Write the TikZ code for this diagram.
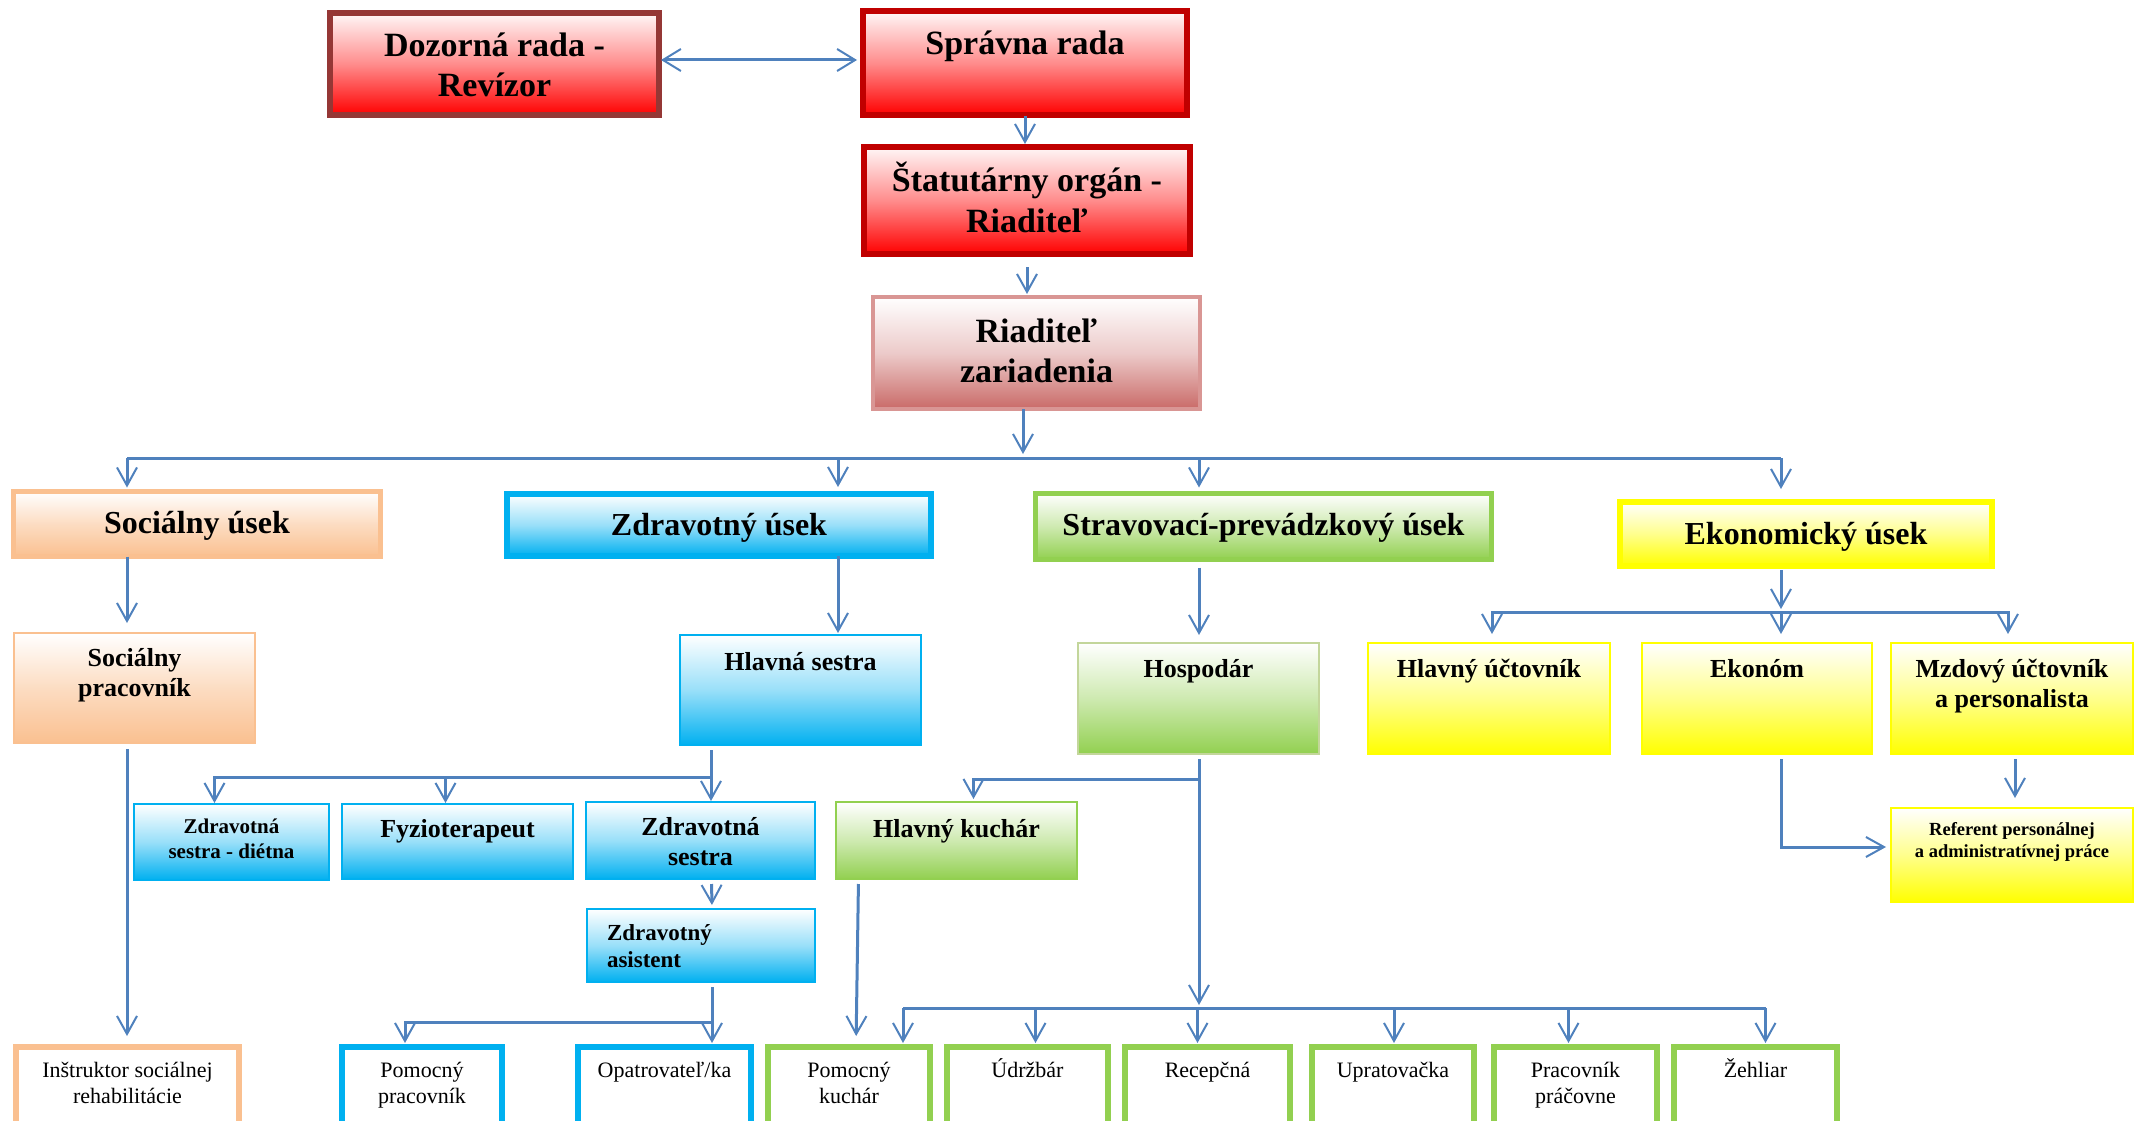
\documentclass[tikz,border=0pt]{standalone}
\usepackage{fontspec}
\setmainfont{Liberation Serif}
\usepackage{tikz}
\usetikzlibrary{arrows.meta}
\usetikzlibrary{calc}

\definecolor{linkblue}{HTML}{4F81BD}
\definecolor{darkred}{HTML}{C00000}
\definecolor{brownred}{HTML}{953735}
\definecolor{rosered}{HTML}{D99694}
\definecolor{roseshade}{HTML}{C0504D}
\definecolor{peach}{HTML}{FAC090}
\definecolor{skyblue}{HTML}{00B0F0}
\definecolor{leafgreen}{HTML}{92D050}
\definecolor{palegreen}{HTML}{C3D69B}
\definecolor{brightyellow}{HTML}{FFFF00}

\newcommand{\boxalign}{\centering}

\tikzset{
  unit/.style n args={3}{inner sep=0pt, outer sep=0pt,
    execute at begin node={\begin{minipage}[c][#2pt][t]{#1pt}\boxalign\rule{0pt}{#3pt}},
    execute at end node={\end{minipage}}},
  indented/.code={\def\boxalign{\raggedright\leftskip=20pt}},
  toptext/.style={font=\bfseries\fontsize{34pt}{40pt}\selectfont},
  depttext/.style={font=\bfseries\fontsize{32pt}{37pt}\selectfont},
  roletext/.style={font=\bfseries\fontsize{26pt}{30pt}\selectfont},
  smalltext/.style={font=\bfseries\fontsize{21pt}{25pt}\selectfont},
  tinytext/.style={font=\bfseries\fontsize{18.5pt}{22pt}\selectfont},
  stafftext/.style={font=\fontsize{22pt}{26pt}\selectfont},
  redfill/.style={top color=red!3, bottom color=red, middle color=red!45},
  rosefill/.style={top color=white, bottom color=roseshade!85, middle color=roseshade!30},
  orangefill/.style={top color=white, bottom color=peach, middle color=peach!55},
  bluefill/.style={top color=white, bottom color=skyblue, middle color=skyblue!40},
  greenfill/.style={top color=white, bottom color=leafgreen, middle color=leafgreen!45},
  yellowfill/.style={top color=white, bottom color=brightyellow, middle color=brightyellow!45},
  staff/.style={draw=#1, line width=6pt, fill=white, stafftext},
  link/.style={draw=linkblue, line width=3pt,
    -{Straight Barb[length=18pt, width=20pt, line width=2pt]}},
  bus/.style={draw=linkblue, line width=3pt},
}

\begin{document}
\begin{tikzpicture}[x=1pt, y=-1pt]
  \useasboundingbox (0,0) rectangle (2145,1121);
  \clip (0,0) rectangle (2145,1121);

  % board and management
  \node[unit={329}{102}{44}, toptext, redfill, draw=brownred, line width=5.5pt] (dozor) at (494.5,64) {Dozorná rada -\\Revízor};
  \node[unit={324}{104}{44}, toptext, redfill, draw=darkred, line width=5.5pt] (sprav) at (1025,63) {Správna rada};
  \node[unit={326}{107}{45}, toptext, redfill, draw=darkred, line width=5.5pt] (statut) at (1027,200.5) {Štatutárny orgán -\\Riaditeľ};
  \node[unit={327}{112}{45}, toptext, rosefill, draw=rosered, line width=4pt] (riad) at (1036.5,353) {Riaditeľ\\zariadenia};

  % departments
  \node[unit={367}{65}{41.5}, depttext, orangefill, draw=peach, line width=5pt] (socu) at (197,524) {Sociálny úsek};
  \node[unit={424}{62}{41}, depttext, bluefill, draw=skyblue, line width=6pt] (zdru) at (719,525) {Zdravotný úsek};
  \node[unit={456}{66}{41.5}, depttext, greenfill, draw=leafgreen, line width=5pt] (strav) at (1263.5,526.5) {Stravovací-prevádzkový úsek};
  \node[unit={372}{64}{42}, depttext, yellowfill, draw=brightyellow, line width=6pt] (ekon) at (1806,534) {Ekonomický úsek};

  % heads
  \node[unit={241}{110}{33}, roletext, orangefill, draw=peach, line width=2pt] (socp) at (134.5,688) {Sociálny\\pracovník};
  \node[unit={241}{110}{35}, roletext, bluefill, draw=skyblue, line width=2pt] (hsest) at (800.5,690) {Hlavná sestra};
  \node[unit={241}{111}{34}, roletext, greenfill, draw=palegreen, line width=2pt] (hosp) at (1198.5,698.5) {Hospodár};
  \node[unit={242}{111}{34}, roletext, yellowfill, draw=brightyellow, line width=2pt] (hluc) at (1489,698.5) {Hlavný účtovník};
  \node[unit={230}{111}{34}, roletext, yellowfill, draw=brightyellow, line width=2pt] (ekonom) at (1757,698.5) {Ekonóm};
  \node[unit={242}{111}{34}, roletext, yellowfill, draw=brightyellow, line width=2pt] (mzdu) at (2012,698.5) {Mzdový účtovník\\a personalista};

  % second level
  \node[unit={195}{76}{29}, smalltext, bluefill, draw=skyblue, line width=2pt] (zsd) at (231.5,842) {Zdravotná\\sestra - diétna};
  \node[unit={231}{75}{33}, roletext, bluefill, draw=skyblue, line width=2pt] (fyz) at (457.5,841.5) {Fyzioterapeut};
  \node[unit={229}{77}{33}, roletext, bluefill, draw=skyblue, line width=2pt] (zsest) at (700.5,840.5) {Zdravotná\\sestra};
  \node[unit={241}{77}{35}, roletext, greenfill, draw=leafgreen, line width=2pt] (hkuch) at (956.5,840.5) {Hlavný kuchár};
  \node[unit={242}{94}{27}, tinytext, yellowfill, draw=brightyellow, line width=2pt] (ref) at (2012,855) {Referent personálnej\\a administratívnej práce};
  \node[unit={228}{73}{31}, indented, font=\bfseries\fontsize{23pt}{27pt}\selectfont, bluefill, draw=skyblue, line width=2pt] (zasist) at (701,945.5) {Zdravotný\\asistent};

  % staff
  \node[unit={223}{100}{30}, staff=peach] (instr) at (127.5,1097) {Inštruktor sociálnej\\rehabilitácie};
  \node[unit={160}{100}{30}, staff=skyblue] (pomp) at (422,1097) {Pomocný\\pracovník};
  \node[unit={173}{100}{30}, staff=skyblue] (opat) at (664.5,1097) {Opatrovateľ/ka};
  \node[unit={162}{100}{30}, staff=leafgreen] (pomk) at (849,1097) {Pomocný\\kuchár};
  \node[unit={161}{100}{30}, staff=leafgreen] (udrz) at (1027.5,1097) {Údržbár};
  \node[unit={165}{100}{30}, staff=leafgreen] (recep) at (1207.5,1097) {Recepčná};
  \node[unit={162}{100}{30}, staff=leafgreen] (uprat) at (1393,1097) {Upratovačka};
  \node[unit={163}{100}{30}, staff=leafgreen] (prac) at (1575.5,1097) {Pracovník\\práčovne};
  \node[unit={163}{100}{30}, staff=leafgreen] (zehl) at (1755.5,1097) {Žehliar};

  % top of the chart
  \draw[link, {Straight Barb[length=18pt, width=22pt, line width=2pt]}-{Straight Barb[length=18pt, width=22pt, line width=2pt]}, shorten <=2pt, shorten >=6pt] ([yshift=4pt]dozor.east) -- ([yshift=4pt]dozor.east -| sprav.west);
  \draw[link, shorten <=1pt, shorten >=3pt] (sprav.south) -- (sprav.south |- statut.north);
  \draw[link, shorten <=13pt, shorten >=3pt] (statut.south) -- (statut.south |- riad.north);

  \coordinate (hub) at (1023,458);
  \coordinate (b-soc) at (127,458);
  \coordinate (b-zdr) at (838,458);
  \coordinate (b-str) at (1199,458);
  \coordinate (b-eko) at (1781,458);
  \draw[link, shorten >=4pt] (riad.south -| hub) -- (hub);
  \draw[bus] (b-soc) -- (b-eko);
  \foreach \bp/\n/\sh in {b-soc/socu/4, b-zdr/zdru/7, b-str/strav/6, b-eko/ekon/13}
    \draw[link, shorten >=\sh pt] (\bp) -- (\bp |- \n.north);

  % social
  \draw[link, shorten >=10pt] (b-soc |- socu.south) -- (b-soc |- socp.north);
  \draw[link, shorten <=6pt, shorten >=11pt] (b-soc |- socp.south) -- (b-soc |- instr.north);

  % health
  \draw[link, shorten >=2pt] (b-zdr |- zdru.south) -- (b-zdr |- hsest.north);
  \coordinate (hb) at (711,777);
  \draw[link, shorten <=5pt, shorten >=1pt] (hb |- hsest.south) -- (hb |- zsest.north);
  \draw[link, shorten >=1pt] (hb) -| ([xshift=-17pt]zsd.north);
  \draw[link, shorten >=1pt] ([xshift=-12pt]fyz.north |- hb) -- ([xshift=-12pt]fyz.north);
  \draw[link, shorten <=5pt, shorten >=4pt] ([xshift=11pt]zsest.south) -- ([xshift=11pt]zasist.north);
  \coordinate (ab) at (712,1022);
  \draw[link, shorten <=5pt, shorten >=4pt] (ab |- zasist.south) -- (ab |- opat.north);
  \draw[link, shorten >=4pt] (ab) -| ([xshift=-17pt]pomp.north);

  % catering and operations
  \draw[link, shorten <=8pt, shorten >=8pt] (b-str |- strav.south) -- (b-str |- hosp.north);
  \coordinate (kb) at (1199,779);
  \coordinate (pb) at (1199,1008);
  \draw[link, shorten <=5pt, shorten >=3pt] (hosp.south -| pb) -- (pb);
  \draw[link, shorten >=3pt] (kb) -| ([xshift=17pt]hkuch.north);
  \draw[link, shorten <=5pt, shorten >=11pt] ([xshift=-98pt]hkuch.south) -- ([xshift=7pt]pomk.north);
  \draw[bus] ([xshift=54pt]pomk.north |- pb) -- ([xshift=10pt]zehl.north |- pb);
  \foreach \n/\sh in {pomk/54, udrz/8, recep/-10, uprat/1, prac/-7, zehl/10}
    \draw[link, shorten >=4pt] ([xshift=\sh pt]\n.north |- pb) -- ([xshift=\sh pt]\n.north);

  % economy
  \coordinate (eb) at (1781,612);
  \draw[link, shorten <=4pt, shorten >=3pt] (ekon.south -| eb) -- (eb);
  \draw[link, shorten >=9pt] (eb) -| ([xshift=3pt]hluc.north);
  \draw[link, shorten >=9pt] (eb) -| ([xshift=-4pt]mzdu.north);
  \draw[link, shorten >=9pt] (eb) -- (eb |- ekonom.north);
  \draw[link, shorten <=5pt, shorten >=5pt] (ekonom.south -| eb) |- ([yshift=8pt]ref.west);
  \draw[link, shorten <=5pt, shorten >=10pt] ([xshift=3pt]mzdu.south) -- ([xshift=3pt]ref.north);
\end{tikzpicture}
\end{document}
